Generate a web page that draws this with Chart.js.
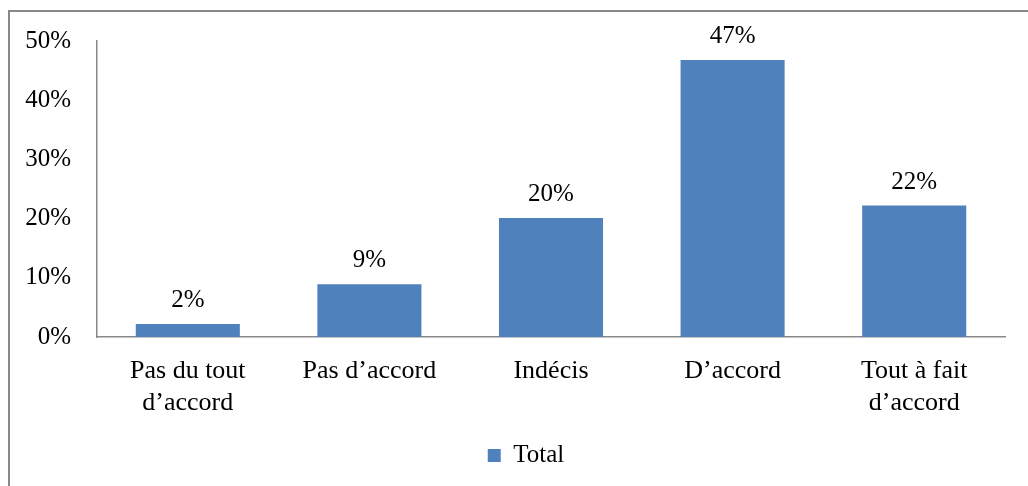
<!DOCTYPE html>
<html>
<head>
<meta charset="utf-8">
<script src="https://cdn.jsdelivr.net/npm/chart.js@4"></script>
<style>
  html, body { margin: 0; padding: 0; background: #fff; }
  #wrap { position: relative; width: 1028px; height: 486px; overflow: hidden; }
  #frame { position: absolute; left: 8px; top: 10px; width: 1100px; height: 600px;
           border-left: 2px solid #888; border-top: 2px solid #888; }
  canvas { position: absolute; left: 0; top: 0; }
</style>
</head>
<body>
<div id="wrap">
  <div id="frame"></div>
  <canvas id="chartAccord" width="1028" height="486"></canvas>
</div>
<script>
// categories and values (percent)
var categories = [["Pas du tout", "d\u2019accord"], "Pas d\u2019accord", "Indécis", "D\u2019accord", ["Tout à fait", "d\u2019accord"]];
var totalValues = [2.2, 8.9, 20.1, 46.8, 22.2];
var yTicks = [0, 10, 20, 30, 40, 50];

var serif = "'Liberation Serif', 'Times New Roman', serif";

// values written above each bar
var barLabels = {
    id: 'barLabels',
    afterDatasetsDraw: function(chart) {
        var ctx = chart.ctx;
        var meta = chart.getDatasetMeta(0);
        ctx.save();
        ctx.font = "25px " + serif;
        ctx.fillStyle = "#000";
        ctx.textAlign = "center";
        ctx.textBaseline = "alphabetic";
        meta.data.forEach(function(bar, i) {
            ctx.fillText(Math.round(totalValues[i]) + "%", bar.x, bar.y - 17);
        });
        ctx.restore();
    }
};

// the legend sits a bit right of the canvas centre, under the plot
var legendShift = {
    id: 'legendShift',
    afterLayout: function(chart) {
        if (chart.legend) {
            chart.legend.left += 23.5;
            chart.legend.right += 23.5;
        }
    }
};

window.chartAccord = new Chart(document.getElementById("chartAccord"), {
    type: 'bar',
    data: {
        labels: categories,
        datasets: [{
            label: "Total",
            backgroundColor: "#4F81BD",
            borderWidth: 0,
            data: totalValues,
            categoryPercentage: 1,
            barPercentage: 0.573
        }]
    },
    options: {
        responsive: false,
        animation: false,
        layout: { padding: { left: 0, right: 23, top: 41, bottom: 8 } },
        plugins: {
            tooltip: { enabled: false },
            title: { display: false },
            legend: {
                position: 'bottom',
                labels: {
                    font: { family: serif, size: 25 },
                    color: "#000",
                    boxWidth: 13,
                    boxHeight: 13,
                    padding: 10
                }
            }
        },
        scales: {
            x: {
                grid: { display: false, drawTicks: false },
                border: { display: true, color: "#888", width: 1.5 },
                ticks: {
                    font: { family: serif, size: 26 },
                    color: "#000",
                    padding: 19,
                    maxRotation: 0,
                    autoSkip: false
                },
                afterFit: function(scale) { scale.height = 96; }
            },
            y: {
                min: 0,
                max: 50,
                afterBuildTicks: function(scale) {
                    scale.ticks = yTicks.map(function(v) { return { value: v }; });
                },
                grid: { display: false, drawTicks: false },
                border: { display: true, color: "#888", width: 1.5 },
                ticks: {
                    font: { family: serif, size: 25 },
                    color: "#000",
                    padding: 26,
                    callback: function(v) { return v + "%"; }
                },
                afterFit: function(scale) { scale.width = 97; }
            }
        }
    },
    plugins: [barLabels, legendShift]
});
</script>
</body>
</html>
